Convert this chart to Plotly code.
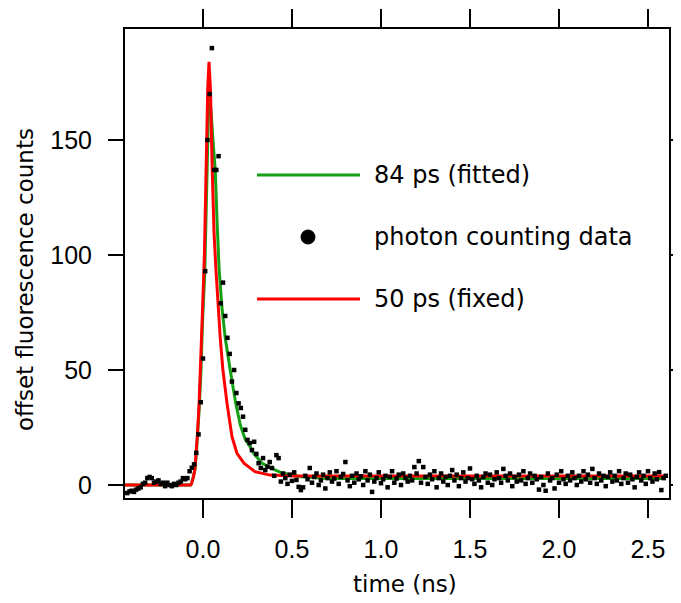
import plotly.graph_objects as go

# ---------------- data ----------------
t_start = -0.425
t_step = 0.0125

counts_pre = [-3.5, -2.8, -2.5, -3.0, -2.0, -1.5, -1.0, 0.5, 1.0, 3.0, 3.5, 3.0, 1.0, 1.5,
              2.0, 0.5, 1.0, -0.5, 1.0, 0.0, -0.5, 0.5, 0.0, 1.0, 1.5, 3.0, 2.5, 3.0]
counts_peak = [6, 7.5, 9, 14, 22, 36, 55, 93, 150, 170, 190, 137, 137, 143, 79, 88, 73.5, 64,
               57, 45, 50, 40, 35.5, 33.5, 29.7, 24, 19.6, 18.2, 15.2, 18.8, 13.5, 9.5, 7.4,
               11.7, 6.5, 8, 10, 7.4, 4, 13, 11.7, 1.5, 5]
counts_tail = [
    3.0, 0.5, 4.5, 1.8, 5.5, 2.2, -0.8, -2.2,
    -1.0, 4.0, 2.5, 7.4, 1.0, 3.5, 5.0, 0.0,
    2.0, 4.5, -1.5, 3.0, 5.5, 1.5, 2.8, 6.0,
    0.5, 3.5, 4.8, 10.0, 2.0, -0.5, 4.0, 1.0,
    5.0, 2.5, 3.8, 0.0, 6.0, 2.0, 4.5, -3.0,
    1.5, 3.0, 5.5, 0.8, 2.5, 4.0, -1.0, 3.5,
    6.0, 1.0, 2.8, 4.5, 0.0, 5.0, 3.0, 1.5,
    4.0, 2.0, 7.8, 5.0, 10.4, 1.0, 7.8, 3.5,
    0.5, 4.5, 2.5, 6.0, -1.0, 3.0, 5.0, 1.5,
    3.5, 0.0, 4.0, 6.5, 2.0, 4.5, -0.5, 3.0,
    5.5, 1.5, 3.0, 7.2, 2.5, 0.5, 4.0, 2.0,
    -1.0, 3.5, 5.0, 1.0, 4.5, 0.0, 2.5, 5.5,
    3.0, 1.0, 7.0, 4.0, 2.0, 5.0, -0.5, 3.5,
    1.5, 4.5, 2.0, 6.0, 0.5, 3.0, 5.0, 1.0,
    4.0, 2.5, -2.0, 3.5, 0.0, -2.5, 5.0, 2.0,
    3.0, -1.5, 4.5, 1.0, 6.0, 2.5, 0.5, 4.0,
    2.0, 5.5, 3.0, 0.0, 4.0, 1.5, 6.0, 2.5,
    4.5, 1.0, 7.0, 3.0, 0.5, 5.0, 2.0, 4.0,
    -0.5, 3.5, 5.5, 1.5, 4.0, 2.0, 6.0, 0.5,
    3.0, 5.0, 1.0, 4.5, 2.5, -1.0, 3.5, 5.5,
    2.0, 4.0, 0.5, 6.0, 3.0, 1.5, 5.0, 2.5,
    5.6, -2.2, 3.0, 4.0]

counts = counts_pre + counts_peak + counts_tail
times = [round(t_start + i * t_step, 4) for i in range(len(counts))]

fit84_t = [-0.44, -0.07, -0.065, -0.055, -0.045, -0.038, -0.031, -0.022, -0.011, -0.003,
           0.01, 0.02, 0.03, 0.038, 0.046, 0.056, 0.069, 0.08, 0.091, 0.108, 0.125, 0.153,
           0.184, 0.21, 0.237, 0.265, 0.284, 0.331, 0.371, 0.444, 0.55, 0.7, 2.6]
fit84_v = [0, 0, 0.5, 3, 6.5, 13, 20, 32, 50, 70, 92, 130, 160, 168, 162, 150, 137, 113,
           93.5, 76, 64, 50, 35.6, 26, 20, 16.7, 13.9, 9.5, 7.8, 5.2, 3.6, 2.8, 2.8]

fit50_t = [-0.44, -0.07, -0.065, -0.055, -0.045, -0.038, -0.031, -0.022, -0.011, -0.003,
           0.008, 0.018, 0.027, 0.034, 0.042, 0.051, 0.062, 0.073, 0.085, 0.097, 0.112, 0.135,
           0.163, 0.191, 0.23, 0.292, 0.376, 0.5, 2.6]
fit50_v = [0, 0, 0.5, 3, 7, 14, 22, 35, 54, 75, 100, 140, 173, 184, 172, 140, 110, 93.5,
           76, 64, 50, 35.6, 21, 13.8, 9.5, 5.8, 4.3, 3.9, 3.9]

x_ticks = [0.0, 0.5, 1.0, 1.5, 2.0, 2.5]
y_ticks = [0, 50, 100, 150]

legend_labels = ["84 ps (fitted)", "photon counting data", "50 ps (fixed)"]

GREEN = "#16a016"
RED = "#ff0000"

# page body margin (8px) offsets the figure; compensate so the plot box lands
# at screen pixels x 125..669, y 29..498
OFF = 8
PL, PR, PT, PB = 125, 669, 29, 498


def px2paper_x(px):
    return (px - PL) / (PR - PL)


def px2paper_y(py):
    return (PB - py) / (PB - PT)


# ---------------- figure ----------------
fig = go.Figure()
fig.add_trace(go.Scatter(x=fit84_t, y=fit84_v, mode="lines",
                         line=dict(color=GREEN, width=3), showlegend=False))
fig.add_trace(go.Scatter(x=fit50_t, y=fit50_v, mode="lines",
                         line=dict(color=RED, width=3), showlegend=False))
fig.add_trace(go.Scatter(x=times, y=counts, mode="markers",
                         marker=dict(color="black", size=4.5, symbol="square"),
                         showlegend=False))

tick_font = dict(family="Liberation Sans Narrow, Liberation Sans, Arial", size=25, color="black")
title_font = dict(family="DejaVu Sans", size=23, color="black")
leg_font = dict(family="DejaVu Sans", size=24, color="black")

fig.update_layout(
    width=681, height=603,
    margin=dict(l=PL - OFF, r=681 - (PR - OFF), t=PT - OFF, b=603 - (PB - OFF), autoexpand=False),
    plot_bgcolor="white", paper_bgcolor="white",
    xaxis=dict(range=[-0.438, 2.618], tickvals=x_ticks, tickformat=".1f",
               showline=True, linecolor="black", linewidth=2, mirror="ticks",
               ticks="outside", ticklen=18, tickwidth=2, tickcolor="black",
               showgrid=False, zeroline=False, tickfont=tick_font,
               ticklabelstandoff=10, automargin=False),
    yaxis=dict(range=[-5.65, 198.3], tickvals=y_ticks,
               showline=True, linecolor="black", linewidth=2, mirror="ticks",
               ticks="outside", ticklen=15, tickwidth=2, tickcolor="black",
               showgrid=False, zeroline=False, tickfont=tick_font,
               ticklabelstandoff=11, automargin=False),
)

# axis titles
fig.add_annotation(text="time (ns)", xref="paper", yref="paper",
                   x=px2paper_x(405), y=px2paper_y(584),
                   xanchor="center", yanchor="middle", showarrow=False, font=title_font)
fig.add_annotation(text="offset fluorescence counts", xref="paper", yref="paper",
                   x=px2paper_x(25), y=px2paper_y(280), xanchor="center", yanchor="middle",
                   textangle=-90, showarrow=False, font=title_font)

# manual legend
lx0, lx1 = px2paper_x(257), px2paper_x(360)
leg_y = [px2paper_y(175), px2paper_y(237), px2paper_y(299)]
fig.add_shape(type="line", xref="paper", yref="paper", x0=lx0, x1=lx1,
              y0=leg_y[0], y1=leg_y[0], line=dict(color=GREEN, width=3))
fig.add_shape(type="line", xref="paper", yref="paper", x0=lx0, x1=lx1,
              y0=leg_y[2], y1=leg_y[2], line=dict(color=RED, width=3))
fig.add_shape(type="circle", xref="paper", yref="paper", xsizemode="pixel", ysizemode="pixel",
              xanchor=px2paper_x(308), yanchor=leg_y[1], x0=-7, x1=7, y0=-7, y1=7,
              fillcolor="black", line=dict(color="black", width=1))
for lab, yy in zip(legend_labels, leg_y):
    fig.add_annotation(text=lab, xref="paper", yref="paper", x=px2paper_x(372), y=yy,
                       xanchor="left", yanchor="middle", showarrow=False, font=leg_font)

fig.write_html("out.html")
